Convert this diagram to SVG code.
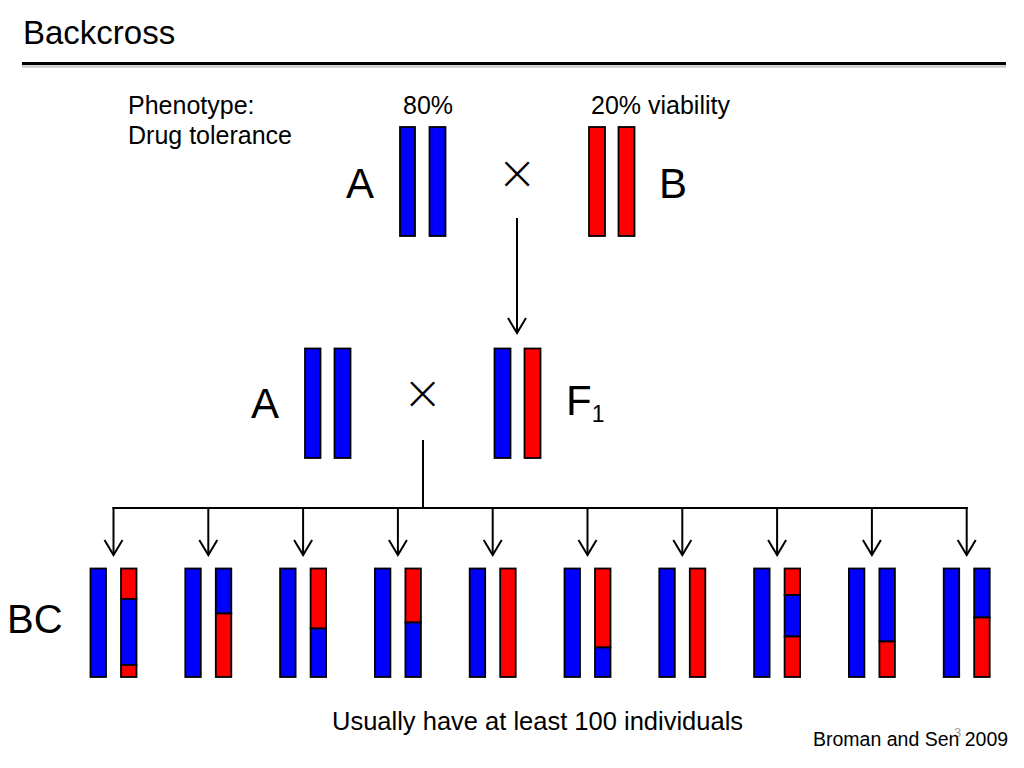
<svg xmlns="http://www.w3.org/2000/svg" width="1024" height="768" viewBox="0 0 1024 768">
<defs>
<style>
text{font-family:"Liberation Sans",Arial,Helvetica,sans-serif;fill:#000}
.b{fill:#0000ff;stroke:#000;stroke-width:1.8}
.r{fill:#ff0000;stroke:#000;stroke-width:1.8}
.ln{fill:none;stroke:#000;stroke-width:2}
.lbl{font-size:42px}
.t{font-size:25px}
.x{font-family:"DejaVu Sans","Liberation Sans",sans-serif;font-weight:200;font-size:48px;text-anchor:middle}
</style>
<marker id="ah" viewBox="-17 -11 19 22" refX="0" refY="0" markerWidth="19" markerHeight="22" markerUnits="userSpaceOnUse" orient="auto" overflow="visible">
<path d="M-15,-9 L0,0 L-15,9" fill="none" stroke="#000" stroke-width="2"/>
</marker>
</defs>
<rect width="1024" height="768" fill="#fff"/>

<g id="title">
<text x="23" y="44" style="font-size:33px">Backcross</text>
<line x1="22" y1="66.5" x2="1006" y2="66.5" stroke="#c8c8c8" stroke-width="2.5"/>
<line x1="22" y1="63.5" x2="1006" y2="63.5" stroke="#000" stroke-width="3"/>
</g>

<g id="phenotype">
<text class="t" x="128" y="114">Phenotype:</text>
<text class="t" x="128" y="144">Drug tolerance</text>
</g>

<g id="parentA">
<text class="t" x="403" y="114">80%</text>
<text class="lbl" x="346" y="198">A</text>
<rect class="b" x="400" y="127" width="15" height="109"/>
<rect class="b" x="429.5" y="127" width="16" height="109"/>
</g>

<text class="x" x="517" y="189">×</text>

<g id="parentB">
<text class="t" x="591" y="114">20% viability</text>
<rect class="r" x="589" y="127" width="16" height="109"/>
<rect class="r" x="618.5" y="127" width="16" height="109"/>
<text class="lbl" x="659" y="198">B</text>
</g>

<g id="backA">
<text class="lbl" x="251" y="418">A</text>
<rect class="b" x="305" y="348.5" width="15.5" height="109.5"/>
<rect class="b" x="334.5" y="348.5" width="16" height="109.5"/>
</g>

<text class="x" x="422.5" y="409">×</text>

<g id="F1">
<rect class="b" x="494.5" y="348.5" width="16" height="109.5"/>
<rect class="r" x="524.5" y="348.5" width="16" height="109.5"/>
<text class="lbl" x="566" y="415">F<tspan style="font-size:23px" dy="6.5">1</tspan></text>
</g>

<g id="connectors">
<line class="ln" x1="517" y1="218" x2="517" y2="333" marker-end="url(#ah)"/>
<line class="ln" x1="423" y1="440" x2="423" y2="508"/>
<line class="ln" x1="112.5" y1="508" x2="967.7" y2="508"/>
<line class="ln" x1="113.5" y1="507" x2="113.5" y2="555" marker-end="url(#ah)"/>
<line class="ln" x1="208.3" y1="507" x2="208.3" y2="555" marker-end="url(#ah)"/>
<line class="ln" x1="303.1" y1="507" x2="303.1" y2="555" marker-end="url(#ah)"/>
<line class="ln" x1="397.9" y1="507" x2="397.9" y2="555" marker-end="url(#ah)"/>
<line class="ln" x1="492.7" y1="507" x2="492.7" y2="555" marker-end="url(#ah)"/>
<line class="ln" x1="587.5" y1="507" x2="587.5" y2="555" marker-end="url(#ah)"/>
<line class="ln" x1="682.3" y1="507" x2="682.3" y2="555" marker-end="url(#ah)"/>
<line class="ln" x1="777.1" y1="507" x2="777.1" y2="555" marker-end="url(#ah)"/>
<line class="ln" x1="871.9" y1="507" x2="871.9" y2="555" marker-end="url(#ah)"/>
<line class="ln" x1="966.7" y1="507" x2="966.7" y2="555" marker-end="url(#ah)"/>
</g>

<text id="BC" x="7" y="633" style="font-size:40px">BC</text>

<g id="bc1">
<rect class="b" x="90.5" y="568.5" width="15.5" height="108.5"/>
<rect class="r" x="121" y="568.5" width="15.5" height="30.5"/>
<rect class="b" x="121" y="599" width="15.5" height="66"/>
<rect class="r" x="121" y="665" width="15.5" height="12"/>
</g>
<g id="bc2">
<rect class="b" x="185.3" y="568.5" width="15.5" height="108.5"/>
<rect class="b" x="215.8" y="568.5" width="15.5" height="45"/>
<rect class="r" x="215.8" y="613.5" width="15.5" height="63.5"/>
</g>
<g id="bc3">
<rect class="b" x="280.1" y="568.5" width="15.5" height="108.5"/>
<rect class="r" x="310.6" y="568.5" width="15.5" height="60"/>
<rect class="b" x="310.6" y="628.5" width="15.5" height="48.5"/>
</g>
<g id="bc4">
<rect class="b" x="374.9" y="568.5" width="15.5" height="108.5"/>
<rect class="r" x="405.4" y="568.5" width="15.5" height="54"/>
<rect class="b" x="405.4" y="622.5" width="15.5" height="54.5"/>
</g>
<g id="bc5">
<rect class="b" x="469.7" y="568.5" width="15.5" height="108.5"/>
<rect class="r" x="500.2" y="568.5" width="15.5" height="108.5"/>
</g>
<g id="bc6">
<rect class="b" x="564.5" y="568.5" width="15.5" height="108.5"/>
<rect class="r" x="595" y="568.5" width="15.5" height="79"/>
<rect class="b" x="595" y="647.5" width="15.5" height="29.5"/>
</g>
<g id="bc7">
<rect class="b" x="659.3" y="568.5" width="15.5" height="108.5"/>
<rect class="r" x="689.8" y="568.5" width="15.5" height="108.5"/>
</g>
<g id="bc8">
<rect class="b" x="754.1" y="568.5" width="15.5" height="108.5"/>
<rect class="r" x="784.6" y="568.5" width="15.5" height="26.5"/>
<rect class="b" x="784.6" y="595" width="15.5" height="41.5"/>
<rect class="r" x="784.6" y="636.5" width="15.5" height="40.5"/>
</g>
<g id="bc9">
<rect class="b" x="848.9" y="568.5" width="15.5" height="108.5"/>
<rect class="b" x="879.4" y="568.5" width="15.5" height="73"/>
<rect class="r" x="879.4" y="641.5" width="15.5" height="35.5"/>
</g>
<g id="bc10">
<rect class="b" x="943.7" y="568.5" width="15.5" height="108.5"/>
<rect class="b" x="974.2" y="568.5" width="15.5" height="49"/>
<rect class="r" x="974.2" y="617.5" width="15.5" height="59.5"/>
</g>

<text id="note" x="332" y="730" style="font-size:25.5px">Usually have at least 100 individuals</text>
<text id="slidenum" x="954" y="737" style="font-size:13px;fill:#999">3</text>
<text id="cite" x="813" y="746" style="font-size:19.5px">Broman and Sen 2009</text>
</svg>
